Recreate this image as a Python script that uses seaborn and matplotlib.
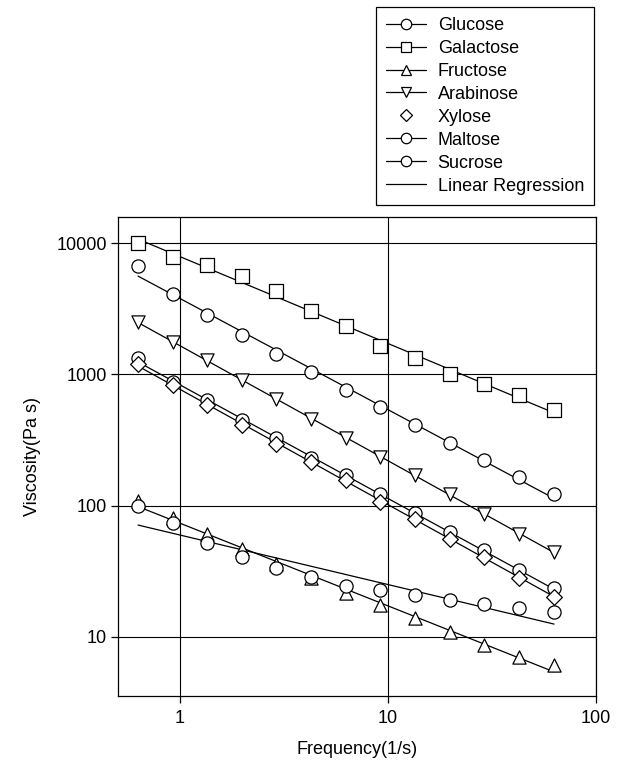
import numpy as np
import pandas as pd
import matplotlib
matplotlib.use("Agg")
import matplotlib.pyplot as plt
from matplotlib.lines import Line2D
import seaborn as sns

# ---- data ----
freq = [0.628, 0.921, 1.351, 1.982, 2.907, 4.265, 6.256, 9.177, 13.46, 19.75, 28.97, 42.49, 62.83]

glucose   = [1333, 875, 634, 447, 328, 231, 170, 122, 87, 62.4, 45.8, 32.2, 23.4]
galactose = [10000, 7820, 6840, 5660, 4350, 3070, 2360, 1663, 1340, 1000, 839, 692, 536]
fructose  = [108, 80, 61, 47, 36, 28, 21.4, 17.5, 13.8, 10.8, 8.65, 7.05, 6.1]
arabinose = [2500, 1780, 1280, 900, 650, 460, 330, 235, 170, 123, 86, 61, 44]
xylose    = [1205, 824, 580, 414, 297, 213, 156, 107, 79, 56, 40.8, 28.2, 20.2]
maltose   = [6760, 4110, 2845, 2003, 1438, 1043, 755, 565, 409, 301, 221, 166, 122]
sucrose   = [100, 74, 51.5, 40.3, 33.3, 28.3, 24.5, 22.7, 20.8, 19.1, 17.7, 16.5, 15.5]

series_names = ["Glucose", "Galactose", "Fructose", "Arabinose", "Xylose", "Maltose", "Sucrose"]
series_values = [glucose, galactose, fructose, arabinose, xylose, maltose, sucrose]
series_markers = ["o", "s", "^", "v", "D", "o", "o"]
legend_has_line = [True, True, True, True, False, True, True]
regression_label = "Linear Regression"

x_ticks = [1, 10, 100]
x_tick_labels = ["1", "10", "100"]
y_ticks = [10, 100, 1000, 10000]
y_tick_labels = ["10", "100", "1000", "10000"]

# ---- style ----
sns.set_theme(style="white")
plt.rcParams["font.family"] = ["Liberation Sans", "DejaVu Sans"]
plt.rcParams["font.size"] = 13

fig = plt.figure(figsize=(6.27, 7.67), dpi=100)
ax = fig.add_axes([0.1882, 0.0925, 0.7624, 0.6246])

marker_sizes = {"o": 9.5, "s": 9.5, "^": 9.5, "v": 9.5, "D": 8.0}

for name, vals, mk in zip(series_names, series_values, series_markers):
    lx = np.log10(np.array(freq))
    ly = np.log10(np.array(vals, dtype=float))
    k, b = np.polyfit(lx, ly, 1)
    fit = 10 ** (k * lx + b)
    sns.lineplot(x=freq, y=fit, ax=ax, color="black", lw=0.9, zorder=2)
    ms = marker_sizes[mk]
    sns.scatterplot(x=freq, y=vals, ax=ax, marker=mk, s=ms ** 2,
                    facecolor="white", edgecolor="black", linewidth=0.9, zorder=3)

ax.set_xscale("log")
ax.set_yscale("log")
ax.set_xlim(0.503, 100)
ax.set_ylim(3.52, 15900)

ax.set_xticks(x_ticks)
ax.set_xticklabels(x_tick_labels)
ax.set_yticks(y_ticks)
ax.set_yticklabels(y_tick_labels)
ax.xaxis.set_minor_locator(matplotlib.ticker.NullLocator())
ax.yaxis.set_minor_locator(matplotlib.ticker.NullLocator())

ax.grid(True, which="major", color="black", lw=0.8)
ax.set_axisbelow(True)
for sp in ax.spines.values():
    sp.set_color("black")
    sp.set_linewidth(0.9)
ax.tick_params(axis="both", which="major", direction="out", length=5, width=0.9,
               color="black", labelsize=13, labelcolor="black", left=True, bottom=True)
ax.tick_params(axis="x", pad=5)
ax.tick_params(axis="y", pad=3)

ax.set_xlabel("Frequency(1/s)", fontsize=13, color="black", labelpad=10)
ax.set_ylabel("Viscosity(Pa s)", fontsize=13, color="black", labelpad=11)

# ---- legend ----
handles = []
for name, mk, has_line in zip(series_names, series_markers, legend_has_line):
    handles.append(Line2D([0], [0], color="black", lw=0.9,
                          linestyle="-" if has_line else "none",
                          marker=mk, markersize=7.5 if mk != "D" else 6.5,
                          markerfacecolor="white", markeredgecolor="black",
                          markeredgewidth=0.9))
handles.append(Line2D([0], [0], color="black", lw=0.9))
labels = series_names + [regression_label]

leg = fig.legend(handles, labels, loc="upper right",
                 bbox_to_anchor=(594 / 627, 1 - 7 / 767), borderaxespad=0,
                 fontsize=13, frameon=True, fancybox=False, framealpha=1,
                 edgecolor="black", labelspacing=0.33, handlelength=2.2,
                 handletextpad=0.65, borderpad=0.55)
leg.get_frame().set_linewidth(0.9)
for t in leg.get_texts():
    t.set_color("black")

fig.savefig("out.png", dpi=100)
